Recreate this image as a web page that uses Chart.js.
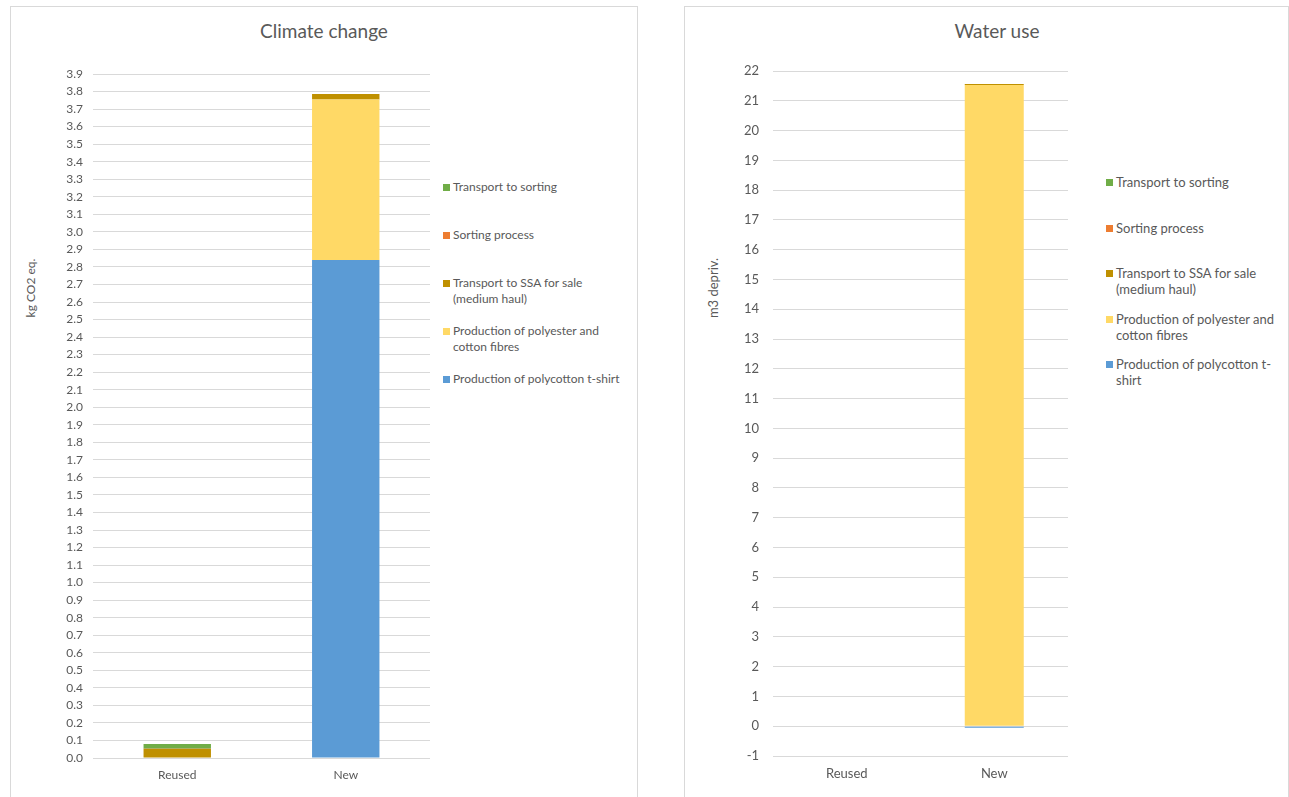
<!DOCTYPE html>
<html>
<head>
<meta charset="utf-8">
<script src="https://cdn.jsdelivr.net/npm/chart.js@4/dist/chart.umd.min.js"></script>
<style>
  body { margin:0; background:#fff; width:1289px; height:797px; overflow:hidden; position:relative; font-family:Lato, "Open Sans", sans-serif; color:#595959; }
  .panel { position:absolute; top:6px; height:830px; box-sizing:border-box; border:1px solid #D9D9D9; }
  .panel canvas { position:absolute; left:0; top:0; }
  .ttl { position:absolute; top:12px; line-height:24px; font-size:19px; text-align:center; }
  .ytitle { position:absolute; white-space:nowrap; transform:translate(-50%,-50%) rotate(-90deg); }
  .legend { position:absolute; }
  .legend .item { position:absolute; left:0; display:flex; align-items:flex-start; }
  .legend .sw { flex:none; width:7px; height:7px; margin-right:3px; }
</style>
</head>
<body>
<div class="panel" id="p1" style="left:10px;width:628px;">
  <div class="ttl" style="left:0;width:626px;">Climate change</div>
  <div class="ytitle" style="left:19px;top:281px;font-size:12px;">kg CO2 eq.</div>
  <canvas id="c1" width="420" height="790"></canvas>
  <div class="legend" id="l1"></div>
</div>
<div class="panel" id="p2" style="left:684px;width:605px;">
  <div class="ttl" style="left:0;width:624px;">Water use</div>
  <div class="ytitle" style="left:28px;top:281px;font-size:13px;">m3 depriv.</div>
  <canvas id="c2" width="384" height="790"></canvas>
  <div class="legend" id="l2"></div>
</div>
<script>
// categories and series (bottom of stack first)
const categories = ['Reused', 'New'];
const seriesNames = [
  'Production of polycotton t-shirt',
  'Production of polyester and cotton fibres',
  'Transport to SSA for sale (medium haul)',
  'Sorting process',
  'Transport to sorting'
];
const seriesColors = ['#5B9BD5', '#FFD966', '#BF9000', '#ED7D31', '#70AD47'];

// kg CO2 eq.
const climateTshirt    = [0, 2.84];
const climateFibres    = [0, 0.915];
const climateTransport = [0.051, 0.031];
const climateSorting   = [0.002, 0];
const climateToSorting = [0.027, 0];

// m3 depriv.
const waterTshirt    = [0, -0.05];
const waterFibres    = [0, 21.53];
const waterTransport = [0, 0.03];
const waterSorting   = [0, 0];
const waterToSorting = [0, 0];

const climateTicks = {min:0, max:3.9, step:0.1, digits:1};
const waterTicks = {min:-1, max:22, step:1, digits:0};

const txt = '#595959', grid = '#D9D9D9';

function makeChart(id, series, ticks, o){
  new Chart(document.getElementById(id), {
    type:'bar',
    data:{
      labels:categories,
      datasets: series.map((d,i)=>({ label:seriesNames[i], data:d, backgroundColor:seriesColors[i], borderWidth:0,
        barPercentage:0.4, categoryPercentage:1 }))
    },
    options:{
      responsive:false, animation:false,
      layout:{ padding:{ top:o.top, right:1, bottom:0, left:0 } },
      plugins:{ legend:{display:false}, tooltip:{enabled:false} },
      scales:{
        x:{ stacked:true, grid:{display:false, drawTicks:false}, border:{display:false},
            ticks:{ color:txt, font:{family:'Lato', size:o.font}, padding:o.xpad },
            afterFit: s => { s.height = o.xh; } },
        y:{ stacked:true, min:ticks.min, max:ticks.max,
            grid:{ color:grid, drawTicks:false }, border:{display:false},
            ticks:{ stepSize:ticks.step, autoSkip:false, color:txt, font:{family:'Lato', size:o.font}, padding:o.ypad,
                    callback: v => Number(v).toFixed(ticks.digits) },
            afterFit: s => { s.width = o.yw; } }
      }
    }
  });
}

function makeLegend(id, o){
  const el = document.getElementById(id);
  el.style.left = o.left + 'px'; el.style.top = '0px';
  // Excel lists the top of the stack first
  seriesNames.slice().reverse().forEach((name, k)=>{
    const i = seriesNames.length - 1 - k;
    const it = document.createElement('div');
    it.className = 'item';
    it.style.top = (o.first - 8 + k*o.step) + 'px';
    it.style.width = o.width + 'px';
    it.style.fontSize = o.font + 'px';
    it.style.lineHeight = '16px';
    it.innerHTML = `<span class="sw" style="background:${seriesColors[i]};margin-top:${o.swTop}px"></span><span>${name}</span>`;
    el.appendChild(it);
  });
}

makeChart('c1', [climateTshirt, climateFibres, climateTransport, climateSorting, climateToSorting], climateTicks,
  { top:67, xh:39, yw:82, ypad:10, xpad:10, font:12 });
makeChart('c2', [waterTshirt, waterFibres, waterTransport, waterSorting, waterToSorting], waterTicks,
  { top:64, xh:41, yw:88, ypad:14, xpad:10, font:13 });

makeLegend('l1', { left:432, first:180, step:48, width:183, font:12, swTop:5 });
makeLegend('l2', { left:421, first:175, step:45.5, width:183, font:13, swTop:5 });
</script>
</body>
</html>
